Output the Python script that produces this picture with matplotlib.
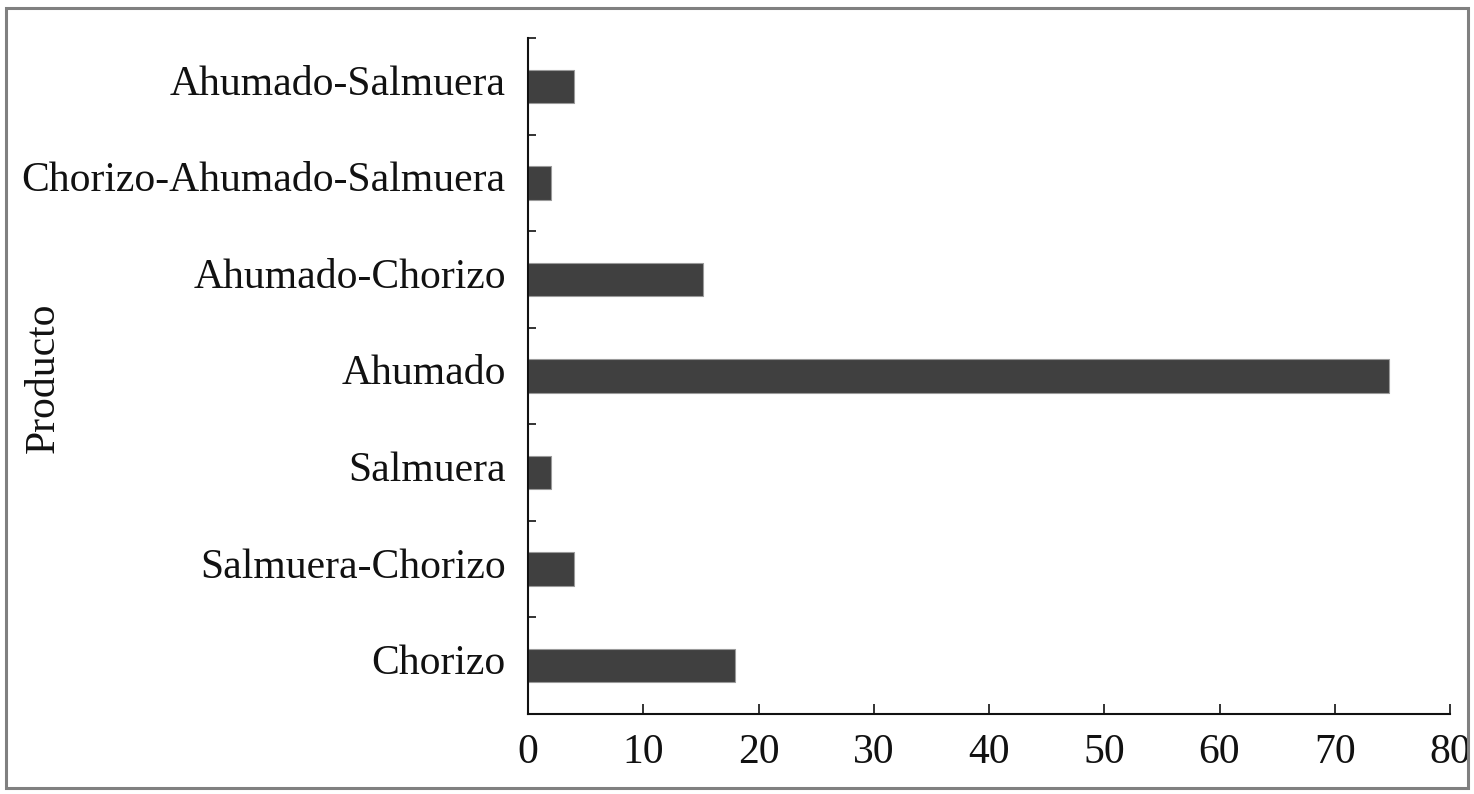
import matplotlib
matplotlib.use("Agg")
import matplotlib.pyplot as plt
from matplotlib.patches import Rectangle
from matplotlib.ticker import FixedLocator, NullFormatter
from matplotlib.transforms import ScaledTranslation

categories = ["Chorizo", "Salmuera-Chorizo", "Salmuera", "Ahumado",
              "Ahumado-Chorizo", "Chorizo-Ahumado-Salmuera", "Ahumado-Salmuera"]
values = [18, 4, 2, 74.7, 15.2, 2, 4]
xticks = [0, 10, 20, 30, 40, 50, 60, 70, 80]

plt.rcParams['font.family'] = ['Liberation Serif', 'DejaVu Serif']

W, H = 1474, 794
fig = plt.figure(figsize=(W / 100, H / 100), dpi=100)
ax = fig.add_axes([528 / W, 1 - 714 / H, (1450 - 528) / W, (714 - 38) / H])

ypos = list(range(len(categories)))
ax.barh(ypos, values, height=0.345, color='#404040', edgecolor='#9a9a9a', linewidth=0.8)

ax.set_xlim(0, 80)
ax.set_ylim(-0.5, len(categories) - 0.5)
ax.set_xticks(xticks)
ax.set_xticklabels([str(t) for t in xticks])
ax.set_yticks(ypos)
ax.set_yticklabels(categories)
ax.yaxis.set_minor_locator(FixedLocator([i - 0.5 for i in range(len(categories) + 1)]))
ax.yaxis.set_minor_formatter(NullFormatter())

for s in ['top', 'right']:
    ax.spines[s].set_visible(False)
for s in ['left', 'bottom']:
    ax.spines[s].set_linewidth(1.5)
    ax.spines[s].set_color('#111111')

ax.tick_params(axis='y', which='major', length=0, pad=16, labelsize=30, colors='#111111')
ax.tick_params(axis='y', which='minor', direction='in', length=6, width=1.2, color='#111111')
ax.tick_params(axis='x', which='major', direction='in', length=7.5, width=1.2, pad=14,
               labelsize=30, colors='#111111')

shift = ScaledTranslation(0, -8.5 / 100, fig.dpi_scale_trans)
for lab in ax.get_yticklabels():
    lab.set_verticalalignment('baseline')
    lab.set_transform(lab.get_transform() + shift)

fig.text(44 / W, 1 - 378 / H, "Producto", rotation=90, ha='center', va='center',
         fontsize=30, color='#111111')

fig.patches.append(Rectangle((6 / W, 1 - 788 / H), (1468 - 6) / W, (788 - 8) / H,
                             transform=fig.transFigure, fill=False,
                             edgecolor='#808080', linewidth=2.2))

fig.savefig("out.png", dpi=100)
